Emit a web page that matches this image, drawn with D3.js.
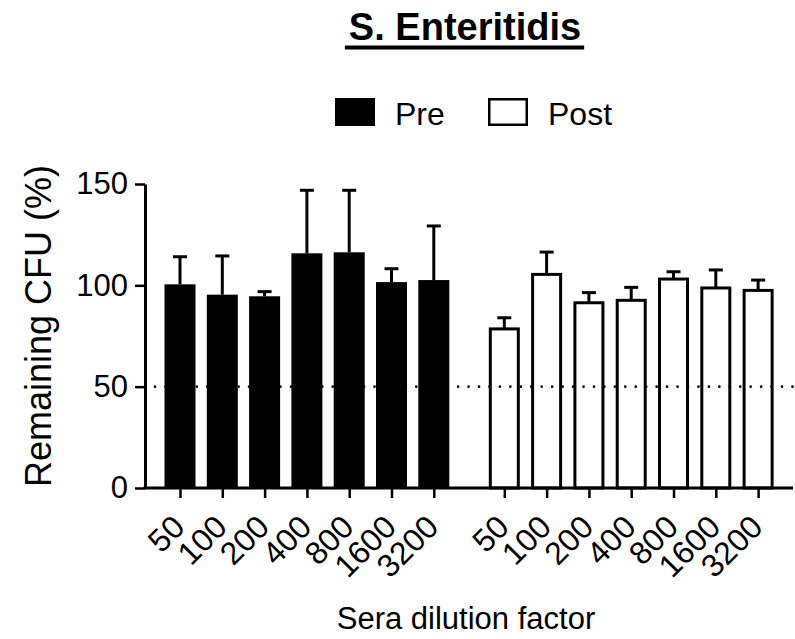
<!DOCTYPE html>
<html>
<head>
<meta charset="utf-8">
<script src="https://cdn.jsdelivr.net/npm/d3@7"></script>
<style>
  html, body { margin: 0; padding: 0; background: #fff; }
  svg { display: block; }
  text { font-family: "Liberation Sans", Arial, Helvetica, sans-serif; fill: #000; }
</style>
</head>
<body>
<svg id="chart" width="795" height="639"></svg>
<script>
// Dilution factors shown under each group
const dilutions = ["50", "100", "200", "400", "800", "1600", "3200"];
// Remaining CFU (%) before immunisation: mean and SD
const preMean = [100.5, 95.4, 94.6, 115.8, 116.3, 101.6, 102.6];
const preSD   = [13.6, 19.1, 2.3, 31.1, 30.6, 6.6, 26.7];
// Remaining CFU (%) after immunisation: mean and SD
const postMean = [78.5, 105.4, 91.4, 92.6, 103.1, 98.7, 97.5];
const postSD   = [5.5, 11.0, 5.0, 6.4, 3.6, 8.9, 5.1];
// Y axis ticks and reference level
const yTicks = [0, 50, 100, 150];
const refLevel = 50;

const svg = d3.select("#chart");

// Slot positions: pre group 0..6, post group shifted to leave a gap
const groupGap = 7.667;
const rows = [];
dilutions.forEach((d, i) => rows.push({ group: "pre", label: d, slot: i, mean: preMean[i], sd: preSD[i] }));
dilutions.forEach((d, i) => rows.push({ group: "post", label: d, slot: i + groupGap, mean: postMean[i], sd: postSD[i] }));

const x = d3.scaleLinear().domain([0, 1]).range([180, 222.3]);
const y = d3.scaleLinear().domain([0, 150]).range([488, 184]);

const axisLeftX = 145;
const axisRightX = 793;
const barW = 31;

// Bars
const pre = rows.filter(r => r.group === "pre");
const post = rows.filter(r => r.group === "post");

svg.append("g").selectAll("rect").data(pre).join("rect")
  .attr("x", d => x(d.slot) - barW / 2)
  .attr("y", d => y(d.mean))
  .attr("width", barW)
  .attr("height", d => y(0) - y(d.mean))
  .attr("fill", "#000");

svg.append("g").selectAll("rect").data(post).join("rect")
  .attr("x", d => x(d.slot) - barW / 2 + 1.5)
  .attr("y", d => y(d.mean))
  .attr("width", barW - 3)
  .attr("height", d => y(0) - y(d.mean))
  .attr("fill", "#fff")
  .attr("stroke", "#000")
  .attr("stroke-width", 3);

// Dotted reference line
svg.append("line")
  .attr("x1", axisLeftX + 10).attr("x2", axisRightX)
  .attr("y1", y(refLevel)).attr("y2", y(refLevel))
  .attr("stroke", "#000")
  .attr("stroke-width", 2.6)
  .attr("stroke-linecap", "round")
  .attr("stroke-dasharray", "0.1,10.35");

// Error bars (upper only)
const err = svg.append("g").attr("stroke", "#000").attr("stroke-width", 3);
err.selectAll("line.stem").data(rows).join("line")
  .attr("class", "stem")
  .attr("x1", d => x(d.slot)).attr("x2", d => x(d.slot))
  .attr("y1", d => y(d.mean)).attr("y2", d => y(d.mean + d.sd));
err.selectAll("line.cap").data(rows).join("line")
  .attr("class", "cap")
  .attr("x1", d => x(d.slot) - 7).attr("x2", d => x(d.slot) + 7)
  .attr("y1", d => y(d.mean + d.sd)).attr("y2", d => y(d.mean + d.sd));

// Y axis
const yAxis = svg.append("g")
  .attr("transform", `translate(${axisLeftX},0)`)
  .call(d3.axisLeft(y).tickValues(yTicks).tickSize(10).tickSizeOuter(0).tickPadding(7));
yAxis.select(".domain").attr("stroke-width", 3);
yAxis.selectAll(".tick line").attr("stroke-width", 2.5);
yAxis.selectAll(".tick text").style("font-size", "31px").attr("font-family", null);

// X axis
const xAxis = svg.append("g")
  .attr("transform", `translate(0,${y(0)})`)
  .call(d3.axisBottom(x)
    .tickValues(rows.map(r => r.slot))
    .tickFormat((v, i) => rows[i].label)
    .tickSize(10));
xAxis.select(".domain").remove();
xAxis.append("line")
  .attr("x1", axisLeftX - 1.5).attr("x2", axisRightX)
  .attr("y1", 0).attr("y2", 0)
  .attr("stroke", "#000").attr("stroke-width", 3);
xAxis.selectAll(".tick line").attr("stroke-width", 2.5);
xAxis.selectAll(".tick text")
  .attr("y", 0).attr("dy", 0).attr("x", 0)
  .attr("font-family", null)
  .style("font-size", "32px")
  .style("text-anchor", "end")
  .attr("transform", "translate(6,41) rotate(-45)");

// Axis titles
svg.append("text")
  .attr("transform", "translate(51,326) rotate(-90)")
  .attr("text-anchor", "middle")
  .style("font-size", "36px")
  .text("Remaining CFU (%)");

svg.append("text")
  .attr("x", 466).attr("y", 629)
  .attr("text-anchor", "middle")
  .style("font-size", "31px")
  .text("Sera dilution factor");

// Title with underline
const title = svg.append("text")
  .attr("x", 465).attr("y", 40)
  .attr("text-anchor", "middle")
  .style("font-size", "38px")
  .style("font-weight", "bold")
  .text("S. Enteritidis");
const tw = title.node().getComputedTextLength();
svg.append("line")
  .attr("x1", 465 - tw / 2 - 4).attr("x2", 465 + tw / 2 + 3)
  .attr("y1", 47.5).attr("y2", 47.5)
  .attr("stroke", "#000").attr("stroke-width", 4);

// Legend
const legend = svg.append("g");
legend.append("rect").attr("x", 335).attr("y", 98).attr("width", 40).attr("height", 28).attr("fill", "#000");
legend.append("text").attr("x", 395).attr("y", 125).style("font-size", "32px").text("Pre");
legend.append("rect").attr("x", 489.25).attr("y", 99.25).attr("width", 37.5).attr("height", 25.5)
  .attr("fill", "#fff").attr("stroke", "#000").attr("stroke-width", 2.5);
legend.append("text").attr("x", 548).attr("y", 125).style("font-size", "32px").text("Post");
</script>
</body>
</html>
